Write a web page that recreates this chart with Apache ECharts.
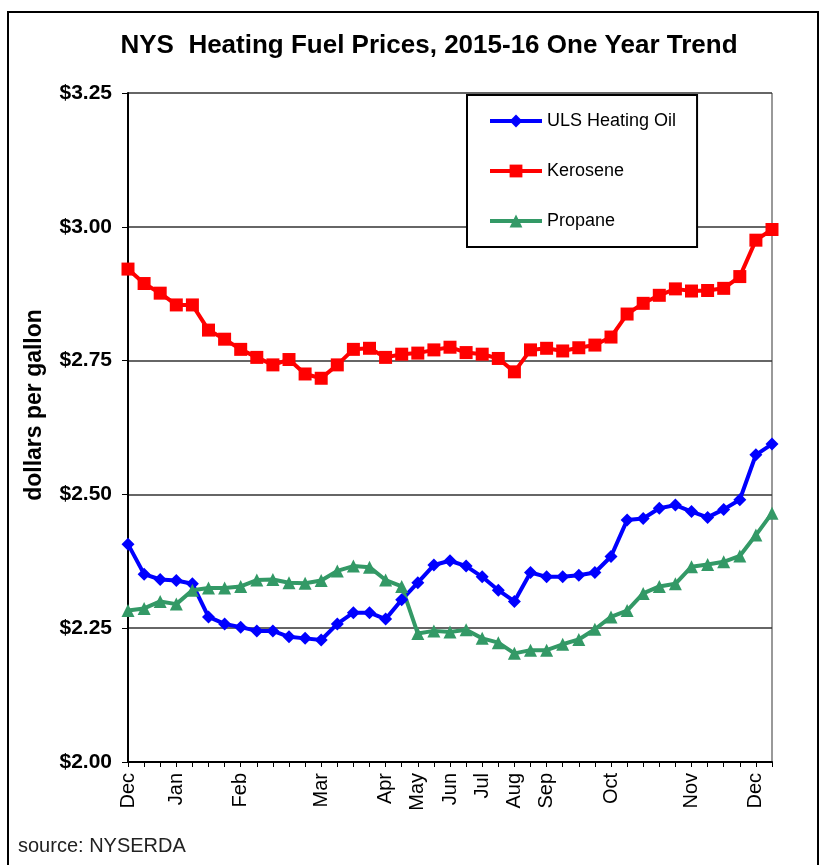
<!DOCTYPE html>
<html>
<head>
<meta charset="utf-8">
<script src="https://cdn.jsdelivr.net/npm/echarts@6/dist/echarts.min.js"></script>
<style>
  html, body { margin: 0; padding: 0; background: #fff; }
  #chart { width: 825px; height: 865px; }
</style>
</head>
<body>
<div id="chart"></div>
<script>
// weekly readings, month label on the first week shown for it
const weeks = ['Dec', '', '', 'Jan', '', '', '', 'Feb', '', '', '', '', 'Mar', '', '', '', 'Apr', '', 'May', '',
  'Jun', '', 'Jul', '', 'Aug', '', 'Sep', '', '', '', 'Oct', '', '', '', '', 'Nov', '', '', '', 'Dec', '']

const heatingOil = [2.407, 2.351, 2.341, 2.339, 2.333, 2.271, 2.258, 2.252, 2.245, 2.245,
  2.234, 2.231, 2.228, 2.258, 2.279, 2.279, 2.267, 2.303, 2.335, 2.368,
  2.376, 2.366, 2.346, 2.321, 2.300, 2.354, 2.346, 2.346, 2.349, 2.354,
  2.384, 2.452, 2.455, 2.474, 2.480, 2.468, 2.457, 2.472, 2.490, 2.574, 2.594]

const kerosene = [2.921, 2.894, 2.876, 2.854, 2.854, 2.807, 2.790, 2.771, 2.756, 2.742,
  2.752, 2.725, 2.717, 2.742, 2.771, 2.773, 2.756, 2.762, 2.764, 2.770,
  2.775, 2.765, 2.762, 2.754, 2.729, 2.770, 2.773, 2.768, 2.774, 2.779,
  2.794, 2.837, 2.857, 2.872, 2.884, 2.880, 2.881, 2.885, 2.907, 2.975, 2.995]

const propane = [2.283, 2.287, 2.300, 2.295, 2.321, 2.325, 2.325, 2.328, 2.340, 2.341,
  2.335, 2.334, 2.339, 2.357, 2.366, 2.364, 2.340, 2.328, 2.240, 2.245,
  2.243, 2.247, 2.231, 2.223, 2.203, 2.209, 2.209, 2.220, 2.229, 2.248,
  2.271, 2.283, 2.315, 2.328, 2.333, 2.365, 2.369, 2.374, 2.385, 2.424, 2.465]

const yTicks = [2.00, 2.25, 2.50, 2.75, 3.00, 3.25]

const chart = echarts.init(document.getElementById('chart'))
const font = 'Liberation Sans, Arial, sans-serif'

function lineSeries(name, data, color, symbol, size) {
  return {
    name: name,
    type: 'line',
    data: data,
    symbol: symbol,
    symbolSize: size,
    lineStyle: { color: color, width: 4 },
    itemStyle: { color: color },
    emphasis: { disabled: true },
    z: 3
  }
}

chart.setOption({
  animation: false,
  textStyle: { fontFamily: font },
  title: {
    text: 'NYS  Heating Fuel Prices, 2015-16 One Year Trend',
    left: 424,
    textAlign: 'center',
    top: 28,
    textStyle: { fontSize: 26, fontWeight: 'bold', color: '#000', fontFamily: font }
  },
  graphic: [
    {
      type: 'rect',
      shape: { x: 8, y: 12, width: 810, height: 862 },
      style: { fill: 'none', stroke: '#000', lineWidth: 2 },
      z: -1
    },
    {
      type: 'text',
      left: 18,
      top: 836,
      style: { text: 'source: NYSERDA', fontSize: 20, fill: '#222', fontFamily: font }
    },
    {
      type: 'text',
      x: 35,
      y: 405,
      rotation: Math.PI / 2,
      style: {
        text: 'dollars per gallon',
        fontSize: 23,
        fontWeight: 'bold',
        fill: '#000',
        fontFamily: font,
        align: 'center',
        verticalAlign: 'middle'
      }
    },
    {
      type: 'line',
      shape: { x1: 772, y1: 93, x2: 772, y2: 762 },
      style: { stroke: '#999', lineWidth: 2 },
      z: 0
    }
  ],
  legend: {
    left: 467,
    top: 95,
    orient: 'vertical',
    padding: [17, 21, 17, 21],
    itemGap: 32,
    itemWidth: 52,
    itemHeight: 16,
    backgroundColor: '#fff',
    borderColor: '#000',
    borderWidth: 2,
    borderRadius: 0,
    lineStyle: { width: 4 },
    textStyle: { fontSize: 18, color: '#000', fontFamily: font },
    data: ['ULS Heating Oil', 'Kerosene', 'Propane']
  },
  grid: { left: 128, right: 53, top: 93, bottom: 103 },
  xAxis: {
    type: 'category',
    data: weeks,
    boundaryGap: false,
    axisLine: { lineStyle: { color: '#000', width: 2 } },
    axisTick: { show: true, interval: 0, length: 5, lineStyle: { color: '#000' } },
    axisLabel: { interval: 0, rotate: 90, fontSize: 20, color: '#000', margin: 11 },
    splitLine: { show: false }
  },
  yAxis: {
    type: 'value',
    min: yTicks[0],
    max: yTicks[yTicks.length - 1],
    interval: 0.25,
    axisLine: { show: true, lineStyle: { color: '#000', width: 2 } },
    axisTick: { show: true, length: 6, lineStyle: { color: '#000' } },
    axisLabel: {
      fontSize: 21,
      fontWeight: 'bold',
      color: '#000',
      margin: 16,
      formatter: v => '$' + v.toFixed(2)
    },
    splitLine: { show: true, lineStyle: { color: '#333', width: 1.5 } }
  },
  series: [
    lineSeries('ULS Heating Oil', heatingOil, '#0000ff', 'diamond', 13),
    lineSeries('Kerosene', kerosene, '#ff0000', 'rect', 13),
    lineSeries('Propane', propane, '#339966', 'triangle', 13)
  ]
})
</script>
</body>
</html>
